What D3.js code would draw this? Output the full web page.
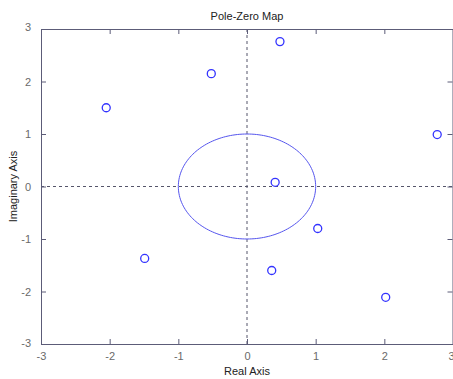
<!DOCTYPE html>
<html>
<head>
<meta charset="utf-8">
<script src="https://cdn.jsdelivr.net/npm/d3@7"></script>
<style>
  html, body { margin: 0; padding: 0; background: #fff; }
  svg { display: block; font-family: "Liberation Sans", Arial, sans-serif; }
</style>
</head>
<body>
<svg id="chart" width="453" height="379"></svg>
<script>
// Pole locations (real, imaginary)
const realParts = [0.48, -0.52, -2.05, 2.77, 0.41, -1.49, 1.03, 0.36, 2.02];
const imagParts = [2.76, 2.15, 1.50, 0.99, 0.08, -1.37, -0.80, -1.60, -2.11];
const xTicks = [-3, -2, -1, 0, 1, 2, 3];
const yTicks = [-3, -2, -1, 0, 1, 2, 3];

const svg = d3.select("#chart");
const plotLeft = 41, plotRight = 453, plotTop = 29, plotBottom = 344;

const x = d3.scaleLinear().domain([-3, 3]).range([plotLeft, plotRight]);
const y = d3.scaleLinear().domain([-3, 3]).range([plotBottom, plotTop]);

const axisColor = "#5c5c78";
const labelColor = "#6a6a6a";
const blue = "#3333ff";
const fmt = d => String(d);

// Zero reference lines
svg.append("line")
  .attr("x1", x(0)).attr("x2", x(0)).attr("y1", plotTop).attr("y2", plotBottom)
  .attr("stroke", "#55556a").attr("stroke-dasharray", "3,3");
svg.append("line")
  .attr("x1", plotLeft).attr("x2", plotRight).attr("y1", y(0)).attr("y2", y(0))
  .attr("stroke", "#55556a").attr("stroke-dasharray", "3,3");

// Unit circle
const theta = d3.range(0, 361, 2).map(d => d * Math.PI / 180);
svg.append("path")
  .datum(theta)
  .attr("d", d3.line().x(t => x(Math.cos(t))).y(t => y(Math.sin(t))))
  .attr("fill", "none").attr("stroke", "#5555ee").attr("stroke-width", 1);

// Axes with inward ticks on all four sides
const tickLen = 5;
const bottomAxis = d3.axisBottom(x).tickValues(xTicks).tickFormat(fmt).tickSizeInner(-tickLen).tickSizeOuter(0).tickPadding(8);
const topAxis = d3.axisTop(x).tickValues(xTicks).tickSizeInner(-tickLen).tickSizeOuter(0).tickFormat("");
const leftAxis = d3.axisLeft(y).tickValues(yTicks).tickFormat(fmt).tickSizeInner(-tickLen).tickSizeOuter(0).tickPadding(10);
const rightAxis = d3.axisRight(y).tickValues(yTicks).tickSizeInner(-tickLen).tickSizeOuter(0).tickFormat("");

function style(g) {
  g.selectAll("path.domain").attr("stroke", axisColor);
  g.selectAll(".tick line").attr("stroke", axisColor);
  g.selectAll(".tick text").attr("fill", labelColor).attr("font-size", 11)
    .attr("font-family", "Liberation Sans, Arial, sans-serif");
}

const gx = svg.append("g").attr("transform", `translate(0,${plotBottom})`).call(bottomAxis).call(style);
// keep the last x label inside the window
gx.selectAll(".tick text").filter(d => d === 3).attr("text-anchor", "end").attr("dx", 1);
svg.append("g").attr("transform", `translate(0,${plotTop})`).call(topAxis).call(style);
const gy = svg.append("g").attr("transform", `translate(${plotLeft},0)`).call(leftAxis).call(style);
gy.selectAll(".tick text").filter(d => d === 3).attr("dy", "0.1em");
gy.selectAll(".tick text").filter(d => d === -3).attr("dy", "0.2em");
svg.append("g").attr("transform", `translate(${plotRight - 0.5},0)`).call(rightAxis).call(style);

// Poles
svg.append("g").selectAll("circle")
  .data(realParts.map((r, i) => [r, imagParts[i]]))
  .join("circle")
  .attr("cx", d => x(d[0])).attr("cy", d => y(d[1]))
  .attr("r", 4)
  .attr("fill", "none").attr("stroke", blue).attr("stroke-width", 1.3);

// Titles
svg.append("text").attr("x", 247).attr("y", 20).attr("text-anchor", "middle")
  .attr("font-size", 11).attr("fill", "#222").text("Pole-Zero Map");
svg.append("text").attr("x", 247).attr("y", 375).attr("text-anchor", "middle")
  .attr("font-size", 11).attr("fill", "#222").text("Real Axis");
svg.append("text").attr("transform", `translate(17,${y(0)}) rotate(-90)`)
  .attr("text-anchor", "middle").attr("font-size", 11).attr("fill", "#222").text("Imaginary Axis");
</script>
</body>
</html>
